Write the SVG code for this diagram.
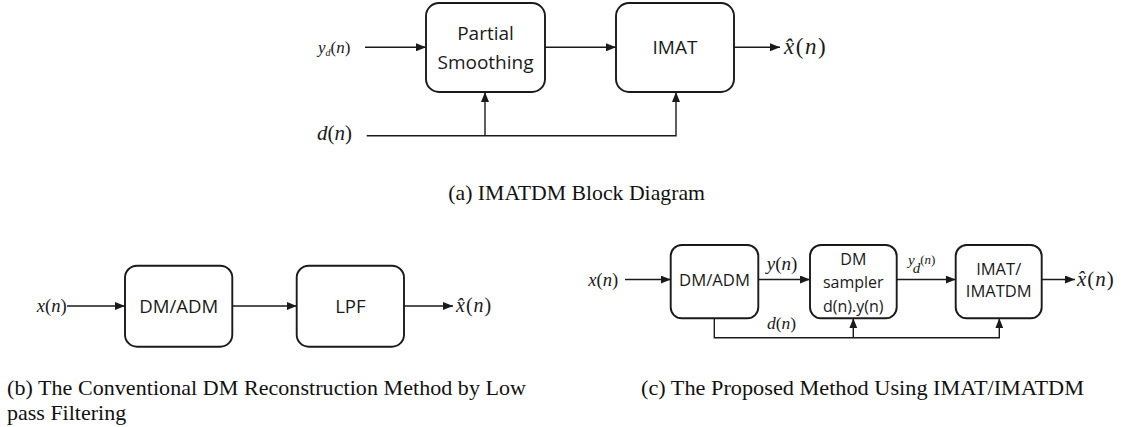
<svg xmlns="http://www.w3.org/2000/svg" width="1128" height="427" viewBox="0 0 1128 427">
<style>
  .box { fill: #ffffff; stroke: #1a1a1a; stroke-width: 1.9; }
  .bt { font-family: "Open Sans", "Noto Sans", sans-serif; fill: #1a1a1a; text-anchor: middle; }
  .m { font-family: "Liberation Serif", "Times New Roman", serif; fill: #1a1a1a; }
  .i { font-style: italic; }
  .cap { font-family: "Liberation Serif", "Times New Roman", serif; fill: #111; font-size: 22px; }
  .ln { fill: none; stroke: #1a1a1a; stroke-width: 1.4; }
  .ar { marker-end: url(#ah); }
</style>
<defs>
  <marker id="ah" viewBox="0 0 10 8" refX="10" refY="4" markerWidth="10" markerHeight="8" markerUnits="userSpaceOnUse" orient="auto">
    <path d="M0,0 L10,4 L0,8 z" fill="#1a1a1a"/>
  </marker>
</defs>
<rect width="1128" height="427" fill="#ffffff"/>

<!-- (a) -->
<g id="a-partial">
  <rect class="box" x="426" y="3" width="119" height="89" rx="13"/>
  <text class="bt" x="485.5" y="40" font-size="19">Partial</text>
  <text class="bt" x="485.5" y="68.5" font-size="19">Smoothing</text>
</g>
<g id="a-imat">
  <rect class="box" x="616" y="3" width="118" height="89" rx="13"/>
  <text class="bt" x="675" y="54" font-size="19">IMAT</text>
</g>
<g id="a-labels">
  <text class="m" x="318" y="53" font-size="17"><tspan class="i">y</tspan><tspan class="i" font-size="10" dy="3">d</tspan><tspan dy="-3">(</tspan><tspan class="i">n</tspan>)</text>
  <text class="m" x="317" y="140" font-size="21"><tspan class="i">d</tspan>(<tspan class="i">n</tspan>)</text>
  <text class="m" x="784" y="54" font-size="23" letter-spacing="1.5"><tspan class="i">x̂</tspan>(<tspan class="i">n</tspan>)</text>
</g>
<g id="a-connectors">
  <path class="ln ar" d="M365,47.3 H426"/>
  <path class="ln ar" d="M545,47.3 H616"/>
  <path class="ln ar" d="M734,47.3 H780"/>
  <path class="ln ar" d="M366.7,135.7 H676 V92"/>
  <path class="ln ar" d="M485,135.7 V92"/>
</g>
<text id="cap-a" class="cap" x="448.3" y="200" font-size="21.5" textLength="256.7" lengthAdjust="spacingAndGlyphs">(a) IMATDM Block Diagram</text>

<!-- (b) -->
<g id="b-dmadm">
  <rect class="box" x="125" y="265.7" width="107.3" height="81" rx="12"/>
  <text class="bt" x="178.7" y="312.7" font-size="18.6">DM/ADM</text>
</g>
<g id="b-lpf">
  <rect class="box" x="296.7" y="265.7" width="107.3" height="81" rx="12"/>
  <text class="bt" x="350.4" y="312.7" font-size="18.6">LPF</text>
</g>
<g id="b-labels">
  <text class="m" x="36.7" y="312" font-size="18.6"><tspan class="i">x</tspan>(<tspan class="i">n</tspan>)</text>
  <text class="m" x="456" y="312" font-size="20" letter-spacing="1"><tspan class="i">x̂</tspan>(<tspan class="i">n</tspan>)</text>
</g>
<g id="b-connectors">
  <path class="ln ar" d="M67,306 H125"/>
  <path class="ln ar" d="M232.3,306 H296.7"/>
  <path class="ln ar" d="M404,306 H453"/>
</g>
<text id="cap-b1" class="cap" x="7" y="395" textLength="519" lengthAdjust="spacing">(b) The Conventional DM Reconstruction Method by Low</text>
<text id="cap-b2" class="cap" x="7" y="420">pass Filtering</text>

<!-- (c) -->
<g id="c-dmadm">
  <rect class="box" x="670.7" y="245" width="87.6" height="73.3" rx="11"/>
  <text class="bt" x="714.5" y="286" font-size="16.7">DM/ADM</text>
</g>
<g id="c-sampler">
  <rect class="box" x="810" y="245" width="86.7" height="73.3" rx="11"/>
  <text class="bt" x="853.3" y="264.5" font-size="16">DM</text>
  <text class="bt" x="853.3" y="288" font-size="16">sampler</text>
  <text class="bt" x="853.3" y="311.5" font-size="16">d(n).y(n)</text>
</g>
<g id="c-imat">
  <rect class="box" x="955.7" y="245" width="86" height="73.3" rx="11"/>
  <text class="bt" x="998.7" y="275" font-size="16.5">IMAT/</text>
  <text class="bt" x="998.7" y="297" font-size="16.5">IMATDM</text>
</g>
<g id="c-labels">
  <text class="m" x="588.3" y="285.5" font-size="18.6"><tspan class="i">x</tspan>(<tspan class="i">n</tspan>)</text>
  <text class="m" x="766.7" y="270" font-size="19"><tspan class="i">y</tspan>(<tspan class="i">n</tspan>)</text>
  <text class="m" x="908" y="265" font-size="15"><tspan class="i">y</tspan><tspan class="i" font-size="15" dy="8" dx="-2">d</tspan><tspan font-size="13" dy="-9">(</tspan><tspan class="i" font-size="13">n</tspan><tspan font-size="13">)</tspan></text>
  <text class="m" x="767" y="329" font-size="17.5"><tspan class="i">d</tspan>(<tspan class="i">n</tspan>)</text>
  <text class="m" x="1077" y="285.5" font-size="21" letter-spacing="1"><tspan class="i">x̂</tspan>(<tspan class="i">n</tspan>)</text>
</g>
<g id="c-connectors">
  <path class="ln ar" d="M625,279.5 H670.7"/>
  <path class="ln ar" d="M758.3,279.5 H810"/>
  <path class="ln ar" d="M896.7,279.5 H955.7"/>
  <path class="ln ar" d="M1041.7,279.5 H1075"/>
  <path class="ln ar" d="M714.3,318.3 V337.7 H999.3 V318.3"/>
  <path class="ln ar" d="M853.3,337.7 V318.3"/>
</g>
<text id="cap-c" class="cap" x="641" y="395" textLength="443" lengthAdjust="spacingAndGlyphs">(c) The Proposed Method Using IMAT/IMATDM</text>
</svg>
